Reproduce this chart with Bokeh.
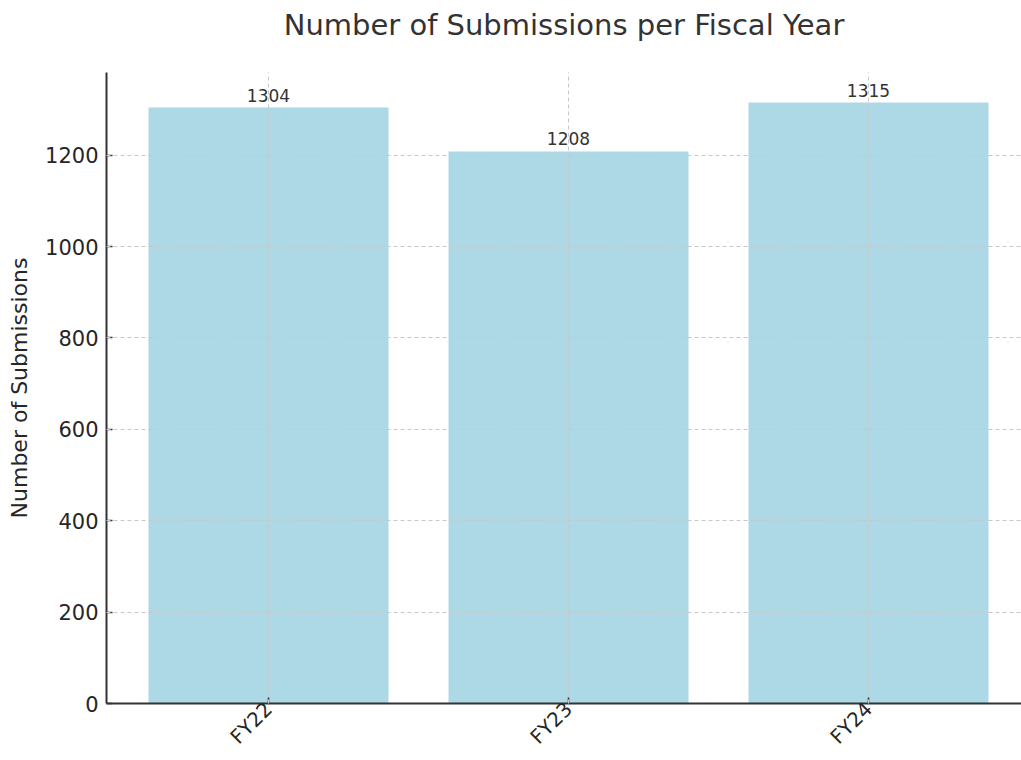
import math
from bokeh.plotting import figure
from bokeh.models import Range1d, FixedTicker, ColumnDataSource, LabelSet, Title
from bokeh.core.properties import value
from bokeh.embed import file_html
from bokeh.resources import INLINE

years = ["FY22", "FY23", "FY24"]
submissions = [1304, 1208, 1315]
y_ticks = [0, 200, 400, 600, 800, 1000, 1200]

xs = list(range(len(years)))
src = ColumnDataSource(dict(x=xs, top=submissions, label=[str(v) for v in submissions]))

p = figure(width=1021, height=760, output_backend="svg", toolbar_location=None,
           x_range=Range1d(-0.54, 2.51), y_range=Range1d(0, 1380.75),
           min_border_left=106, min_border_right=0, min_border_top=0, min_border_bottom=0)
p.outline_line_color = None
p.background_fill_color = "white"
p.border_fill_color = "white"

p.vbar(x="x", top="top", width=0.8, bottom=0, source=src, fill_color="#ADD8E6", line_color=None)

labels = LabelSet(x="x", y="top", text="label", source=src, text_align="center", text_baseline="bottom",
                  text_font=value("DejaVu Sans"), text_font_size="17px", text_color="#333333", y_offset=6)
p.add_layout(labels)

# spacer between the title and the plot frame
p.add_layout(Title(text=" ", text_font_size="2px", standoff=22), "above")

p.title.text = "Number of Submissions per Fiscal Year"
p.title.align = "center"
p.title.text_font = "DejaVu Sans"
p.title.text_font_size = "29px"
p.title.text_font_style = "normal"
p.title.text_color = "#333333"
p.title.standoff = 10

p.xaxis.ticker = FixedTicker(ticks=xs)
p.xaxis.major_label_overrides = {i: y for i, y in enumerate(years)}
p.xaxis.major_label_orientation = math.pi / 4
p.yaxis.ticker = FixedTicker(ticks=y_ticks)
p.yaxis.axis_label = "Number of Submissions"

for ax in (p.xaxis, p.yaxis):
    ax.axis_line_color = "#333333"
    ax.axis_line_width = 2
    ax.major_tick_line_color = "#333333"
    ax.major_tick_line_width = 1.5
    ax.major_tick_in = 6
    ax.major_tick_out = 0
    ax.minor_tick_line_color = None
    ax.major_label_text_font = "DejaVu Sans"
    ax.major_label_text_color = "#262626"
    ax.axis_label_text_font = "DejaVu Sans"
    ax.axis_label_text_font_style = "normal"
    ax.axis_label_text_color = "#262626"

p.yaxis.major_label_text_font_size = "21px"
p.yaxis.major_label_standoff = 8
p.yaxis.axis_label_text_font_size = "22px"
p.yaxis.axis_label_standoff = 10
p.xaxis.major_label_text_font_size = "20px"
p.xaxis.major_label_standoff = 2

for g in (p.xgrid, p.ygrid):
    g.grid_line_color = "#c8c8c8"
    g.grid_line_dash = "4 3"
    g.grid_line_width = 1
    g.level = "annotation"
p.xgrid.ticker = FixedTicker(ticks=xs)
p.ygrid.ticker = FixedTicker(ticks=y_ticks)

open("out.html", "w").write(file_html(p, INLINE))
